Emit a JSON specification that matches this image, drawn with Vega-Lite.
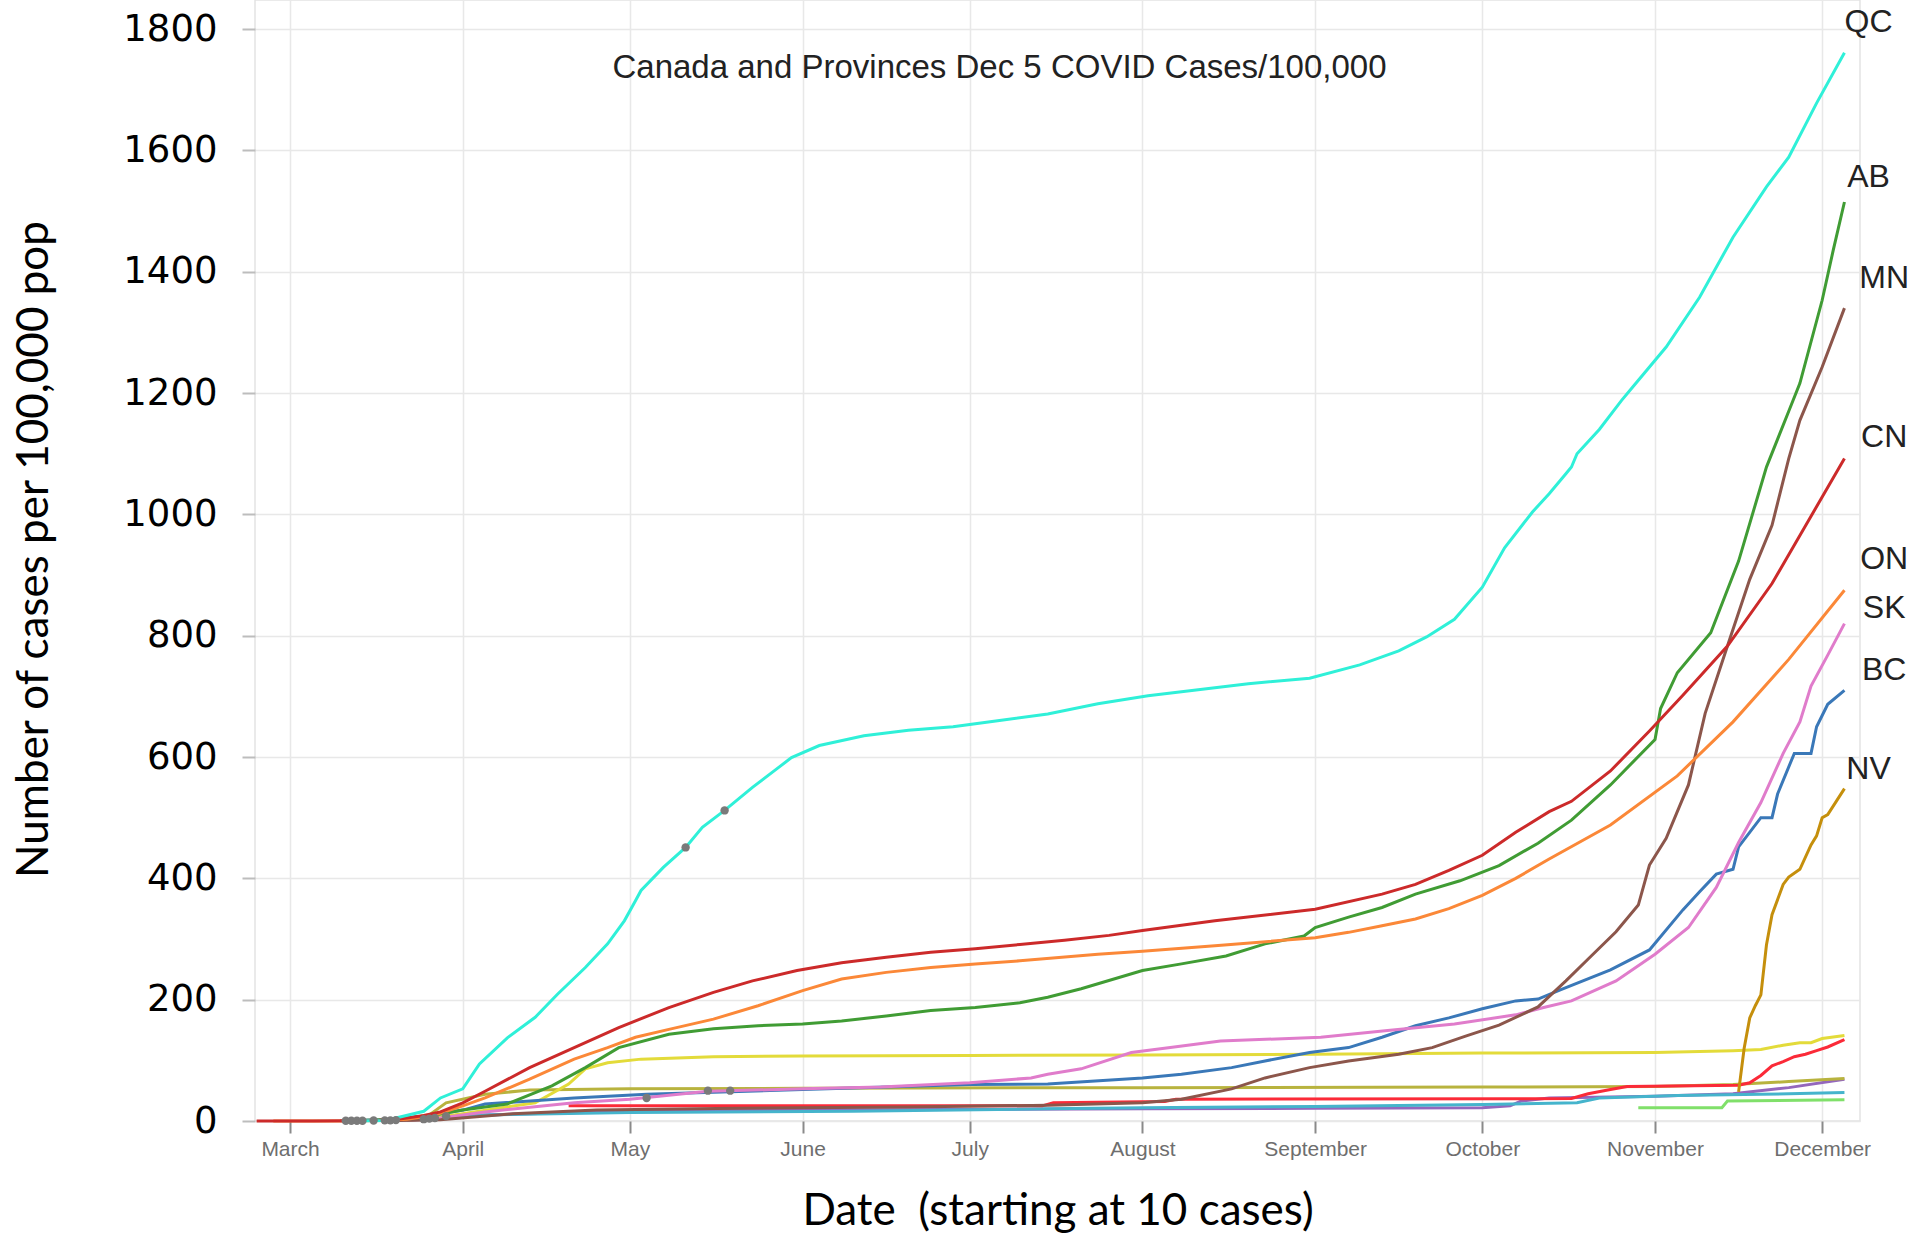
{
  "$schema": "https://vega.github.io/schema/vega-lite/v6.json",
  "width": 1605,
  "height": 1121,
  "autosize": {"type": "none"},
  "padding": {"left": 255, "top": 0, "right": 58, "bottom": 114},
  "background": "white",
  "title": {"text": "Canada and Provinces Dec 5 COVID Cases/100,000", "font": "Liberation Sans", "fontSize": 33, "fontWeight": "normal", "color": "#222222", "anchor": "middle", "frame": "group", "offset": 0, "dx": -58, "dy": 101, "baseline": "middle"},
  "config": {"view": {"stroke": "#e3e3e3", "strokeWidth": 1.5}},
  "datasets": {
    "series": [
      {"s":"NT","date":"2020-10-29","v":22},{"s":"NT","date":"2020-11-13","v":22},{"s":"NT","date":"2020-11-14","v":33},{"s":"NT","date":"2020-12-05","v":35},
      {"s":"NB","date":"2020-03-22","v":1},{"s":"NB","date":"2020-04-05","v":10},{"s":"NB","date":"2020-05-01","v":16},{"s":"NB","date":"2020-06-01","v":18},{"s":"NB","date":"2020-08-01","v":20},{"s":"NB","date":"2020-09-01","v":21},{"s":"NB","date":"2020-10-01","v":22},{"s":"NB","date":"2020-10-06","v":25},{"s":"NB","date":"2020-10-08","v":33},{"s":"NB","date":"2020-10-13","v":38},{"s":"NB","date":"2020-11-01","v":41},{"s":"NB","date":"2020-11-15","v":45},{"s":"NB","date":"2020-11-25","v":55},{"s":"NB","date":"2020-12-05","v":69},
      {"s":"PE","date":"2020-03-20","v":1},{"s":"PE","date":"2020-04-05","v":10},{"s":"PE","date":"2020-05-01","v":14},{"s":"PE","date":"2020-06-10","v":16},{"s":"PE","date":"2020-07-15","v":20},{"s":"PE","date":"2020-08-01","v":22},{"s":"PE","date":"2020-09-01","v":24},{"s":"PE","date":"2020-10-01","v":27},{"s":"PE","date":"2020-10-18","v":30},{"s":"PE","date":"2020-10-22","v":38},{"s":"PE","date":"2020-11-05","v":42},{"s":"PE","date":"2020-11-20","v":44},{"s":"PE","date":"2020-12-05","v":47},
      {"s":"NL","date":"2020-03-20","v":1},{"s":"NL","date":"2020-03-26","v":10},{"s":"NL","date":"2020-03-29","v":30},{"s":"NL","date":"2020-04-05","v":44},{"s":"NL","date":"2020-04-13","v":51},{"s":"NL","date":"2020-05-01","v":53},{"s":"NL","date":"2020-06-01","v":54},{"s":"NL","date":"2020-08-01","v":55},{"s":"NL","date":"2020-10-01","v":56},{"s":"NL","date":"2020-11-01","v":57},{"s":"NL","date":"2020-11-15","v":60},{"s":"NL","date":"2020-11-25","v":65},{"s":"NL","date":"2020-12-05","v":70},
      {"s":"NS","date":"2020-03-18","v":0.5},{"s":"NS","date":"2020-03-25","v":3},{"s":"NS","date":"2020-04-01","v":12},{"s":"NS","date":"2020-04-08","v":22},{"s":"NS","date":"2020-04-14","v":30},{"s":"NS","date":"2020-04-20","v":61},{"s":"NS","date":"2020-04-23","v":86},{"s":"NS","date":"2020-04-27","v":96},{"s":"NS","date":"2020-05-03","v":102},{"s":"NS","date":"2020-05-16","v":106},{"s":"NS","date":"2020-06-01","v":107},{"s":"NS","date":"2020-07-01","v":108},{"s":"NS","date":"2020-08-01","v":109},{"s":"NS","date":"2020-09-01","v":110},{"s":"NS","date":"2020-10-01","v":112},{"s":"NS","date":"2020-11-01","v":113},{"s":"NS","date":"2020-11-15","v":116},{"s":"NS","date":"2020-11-20","v":118},{"s":"NS","date":"2020-11-24","v":125},{"s":"NS","date":"2020-11-27","v":129},{"s":"NS","date":"2020-11-29","v":129},{"s":"NS","date":"2020-12-01","v":136},{"s":"NS","date":"2020-12-05","v":141},
      {"s":"YT","date":"2020-04-20","v":25},{"s":"YT","date":"2020-07-14","v":25},{"s":"YT","date":"2020-07-16","v":30},{"s":"YT","date":"2020-08-05","v":32},{"s":"YT","date":"2020-08-07","v":36},{"s":"YT","date":"2020-10-17","v":37},{"s":"YT","date":"2020-10-20","v":45},{"s":"YT","date":"2020-10-24","v":52},{"s":"YT","date":"2020-10-27","v":57},{"s":"YT","date":"2020-11-16","v":59},{"s":"YT","date":"2020-11-18","v":63},{"s":"YT","date":"2020-11-20","v":75},{"s":"YT","date":"2020-11-22","v":91},{"s":"YT","date":"2020-11-24","v":98},{"s":"YT","date":"2020-11-26","v":106},{"s":"YT","date":"2020-11-28","v":110},{"s":"YT","date":"2020-11-30","v":116},{"s":"YT","date":"2020-12-02","v":122},{"s":"YT","date":"2020-12-05","v":134},
      {"s":"BC","date":"2020-03-10","v":0.3},{"s":"BC","date":"2020-03-18","v":2},{"s":"BC","date":"2020-03-25","v":8},{"s":"BC","date":"2020-04-01","v":18},{"s":"BC","date":"2020-04-05","v":28},{"s":"BC","date":"2020-04-21","v":38},{"s":"BC","date":"2020-05-04","v":44},{"s":"BC","date":"2020-06-01","v":52},{"s":"BC","date":"2020-07-01","v":60},{"s":"BC","date":"2020-07-15","v":61},{"s":"BC","date":"2020-08-01","v":71},{"s":"BC","date":"2020-08-08","v":77},{"s":"BC","date":"2020-08-17","v":88},{"s":"BC","date":"2020-08-23","v":99},{"s":"BC","date":"2020-08-31","v":113},{"s":"BC","date":"2020-09-07","v":121},{"s":"BC","date":"2020-09-13","v":138},{"s":"BC","date":"2020-09-19","v":157},{"s":"BC","date":"2020-09-25","v":170},{"s":"BC","date":"2020-10-01","v":185},{"s":"BC","date":"2020-10-07","v":198},{"s":"BC","date":"2020-10-11","v":201},{"s":"BC","date":"2020-10-15","v":216},{"s":"BC","date":"2020-10-24","v":249},{"s":"BC","date":"2020-10-31","v":282},{"s":"BC","date":"2020-11-06","v":348},{"s":"BC","date":"2020-11-09","v":378},{"s":"BC","date":"2020-11-12","v":407},{"s":"BC","date":"2020-11-15","v":415},{"s":"BC","date":"2020-11-16","v":452},{"s":"BC","date":"2020-11-20","v":500},{"s":"BC","date":"2020-11-22","v":500},{"s":"BC","date":"2020-11-23","v":539},{"s":"BC","date":"2020-11-26","v":606},{"s":"BC","date":"2020-11-29","v":606},{"s":"BC","date":"2020-11-30","v":650},{"s":"BC","date":"2020-12-02","v":687},{"s":"BC","date":"2020-12-05","v":710},
      {"s":"SK","date":"2020-03-20","v":1},{"s":"SK","date":"2020-03-28","v":5},{"s":"SK","date":"2020-04-05","v":15},{"s":"SK","date":"2020-04-21","v":30},{"s":"SK","date":"2020-05-01","v":36},{"s":"SK","date":"2020-05-15","v":49},{"s":"SK","date":"2020-06-01","v":53},{"s":"SK","date":"2020-06-15","v":56},{"s":"SK","date":"2020-07-01","v":63},{"s":"SK","date":"2020-07-12","v":71},{"s":"SK","date":"2020-07-15","v":77},{"s":"SK","date":"2020-07-21","v":86},{"s":"SK","date":"2020-07-30","v":113},{"s":"SK","date":"2020-08-06","v":121},{"s":"SK","date":"2020-08-15","v":132},{"s":"SK","date":"2020-09-02","v":138},{"s":"SK","date":"2020-09-14","v":149},{"s":"SK","date":"2020-09-26","v":160},{"s":"SK","date":"2020-10-07","v":175},{"s":"SK","date":"2020-10-12","v":187},{"s":"SK","date":"2020-10-17","v":198},{"s":"SK","date":"2020-10-25","v":231},{"s":"SK","date":"2020-11-01","v":275},{"s":"SK","date":"2020-11-07","v":319},{"s":"SK","date":"2020-11-12","v":385},{"s":"SK","date":"2020-11-16","v":459},{"s":"SK","date":"2020-11-20","v":525},{"s":"SK","date":"2020-11-24","v":606},{"s":"SK","date":"2020-11-27","v":658},{"s":"SK","date":"2020-11-29","v":717},{"s":"SK","date":"2020-12-02","v":768},{"s":"SK","date":"2020-12-05","v":820},
      {"s":"NV","date":"2020-11-16","v":48},{"s":"NV","date":"2020-11-17","v":120},{"s":"NV","date":"2020-11-18","v":170},{"s":"NV","date":"2020-11-19","v":190},{"s":"NV","date":"2020-11-20","v":208},{"s":"NV","date":"2020-11-21","v":290},{"s":"NV","date":"2020-11-22","v":340},{"s":"NV","date":"2020-11-24","v":390},{"s":"NV","date":"2020-11-25","v":402},{"s":"NV","date":"2020-11-27","v":415},{"s":"NV","date":"2020-11-29","v":455},{"s":"NV","date":"2020-11-30","v":470},{"s":"NV","date":"2020-12-01","v":500},{"s":"NV","date":"2020-12-02","v":505},{"s":"NV","date":"2020-12-05","v":548},
      {"s":"MN","date":"2020-03-18","v":0.5},{"s":"MN","date":"2020-03-28","v":2},{"s":"MN","date":"2020-04-10","v":12},{"s":"MN","date":"2020-04-25","v":18},{"s":"MN","date":"2020-05-20","v":21},{"s":"MN","date":"2020-06-20","v":23},{"s":"MN","date":"2020-07-15","v":26},{"s":"MN","date":"2020-08-01","v":30},{"s":"MN","date":"2020-08-08","v":36},{"s":"MN","date":"2020-08-17","v":53},{"s":"MN","date":"2020-08-23","v":71},{"s":"MN","date":"2020-08-31","v":88},{"s":"MN","date":"2020-09-07","v":99},{"s":"MN","date":"2020-09-16","v":110},{"s":"MN","date":"2020-09-22","v":121},{"s":"MN","date":"2020-09-28","v":140},{"s":"MN","date":"2020-10-04","v":158},{"s":"MN","date":"2020-10-11","v":188},{"s":"MN","date":"2020-10-16","v":231},{"s":"MN","date":"2020-10-20","v":267},{"s":"MN","date":"2020-10-25","v":312},{"s":"MN","date":"2020-10-29","v":356},{"s":"MN","date":"2020-10-31","v":422},{"s":"MN","date":"2020-11-03","v":466},{"s":"MN","date":"2020-11-07","v":554},{"s":"MN","date":"2020-11-10","v":672},{"s":"MN","date":"2020-11-14","v":783},{"s":"MN","date":"2020-11-18","v":893},{"s":"MN","date":"2020-11-22","v":982},{"s":"MN","date":"2020-11-25","v":1092},{"s":"MN","date":"2020-11-27","v":1155},{"s":"MN","date":"2020-12-01","v":1243},{"s":"MN","date":"2020-12-05","v":1340},
      {"s":"AB","date":"2020-03-12","v":0.5},{"s":"AB","date":"2020-03-20","v":3},{"s":"AB","date":"2020-03-27","v":10},{"s":"AB","date":"2020-04-01","v":18},{"s":"AB","date":"2020-04-09","v":28},{"s":"AB","date":"2020-04-17","v":58},{"s":"AB","date":"2020-04-23","v":88},{"s":"AB","date":"2020-04-29","v":121},{"s":"AB","date":"2020-05-08","v":143},{"s":"AB","date":"2020-05-16","v":152},{"s":"AB","date":"2020-05-24","v":157},{"s":"AB","date":"2020-06-01","v":160},{"s":"AB","date":"2020-06-08","v":165},{"s":"AB","date":"2020-06-16","v":173},{"s":"AB","date":"2020-06-24","v":182},{"s":"AB","date":"2020-07-02","v":187},{"s":"AB","date":"2020-07-10","v":195},{"s":"AB","date":"2020-07-15","v":204},{"s":"AB","date":"2020-07-21","v":218},{"s":"AB","date":"2020-08-01","v":248},{"s":"AB","date":"2020-08-08","v":259},{"s":"AB","date":"2020-08-16","v":272},{"s":"AB","date":"2020-08-23","v":292},{"s":"AB","date":"2020-08-30","v":305},{"s":"AB","date":"2020-09-01","v":319},{"s":"AB","date":"2020-09-07","v":336},{"s":"AB","date":"2020-09-13","v":352},{"s":"AB","date":"2020-09-19","v":374},{"s":"AB","date":"2020-09-27","v":396},{"s":"AB","date":"2020-10-04","v":421},{"s":"AB","date":"2020-10-11","v":458},{"s":"AB","date":"2020-10-17","v":496},{"s":"AB","date":"2020-10-24","v":554},{"s":"AB","date":"2020-11-01","v":629},{"s":"AB","date":"2020-11-02","v":680},{"s":"AB","date":"2020-11-05","v":739},{"s":"AB","date":"2020-11-11","v":805},{"s":"AB","date":"2020-11-16","v":923},{"s":"AB","date":"2020-11-21","v":1078},{"s":"AB","date":"2020-11-25","v":1170},{"s":"AB","date":"2020-11-27","v":1216},{"s":"AB","date":"2020-12-01","v":1353},{"s":"AB","date":"2020-12-03","v":1436},{"s":"AB","date":"2020-12-05","v":1515},
      {"s":"ON","date":"2020-02-27","v":0.1},{"s":"ON","date":"2020-03-10","v":0.2},{"s":"ON","date":"2020-03-17","v":1},{"s":"ON","date":"2020-03-22","v":3},{"s":"ON","date":"2020-03-27","v":10},{"s":"ON","date":"2020-04-01","v":25},{"s":"ON","date":"2020-04-05","v":38},{"s":"ON","date":"2020-04-13","v":69},{"s":"ON","date":"2020-04-21","v":102},{"s":"ON","date":"2020-04-27","v":121},{"s":"ON","date":"2020-05-02","v":138},{"s":"ON","date":"2020-05-08","v":151},{"s":"ON","date":"2020-05-16","v":168},{"s":"ON","date":"2020-05-24","v":190},{"s":"ON","date":"2020-06-01","v":215},{"s":"ON","date":"2020-06-08","v":234},{"s":"ON","date":"2020-06-16","v":245},{"s":"ON","date":"2020-06-24","v":253},{"s":"ON","date":"2020-07-02","v":259},{"s":"ON","date":"2020-07-10","v":264},{"s":"ON","date":"2020-07-24","v":275},{"s":"ON","date":"2020-08-01","v":280},{"s":"ON","date":"2020-08-14","v":289},{"s":"ON","date":"2020-09-01","v":302},{"s":"ON","date":"2020-09-07","v":311},{"s":"ON","date":"2020-09-13","v":322},{"s":"ON","date":"2020-09-19","v":333},{"s":"ON","date":"2020-09-25","v":350},{"s":"ON","date":"2020-10-01","v":372},{"s":"ON","date":"2020-10-07","v":400},{"s":"ON","date":"2020-10-13","v":432},{"s":"ON","date":"2020-10-24","v":488},{"s":"ON","date":"2020-11-05","v":569},{"s":"ON","date":"2020-11-15","v":658},{"s":"ON","date":"2020-11-25","v":761},{"s":"ON","date":"2020-12-05","v":875},
      {"s":"CN","date":"2020-02-24","v":0.1},{"s":"CN","date":"2020-03-05","v":0.1},{"s":"CN","date":"2020-03-12","v":0.3},{"s":"CN","date":"2020-03-17","v":1.2},{"s":"CN","date":"2020-03-21","v":3.5},{"s":"CN","date":"2020-03-25","v":9},{"s":"CN","date":"2020-03-28","v":15},{"s":"CN","date":"2020-04-01","v":30},{"s":"CN","date":"2020-04-05","v":49},{"s":"CN","date":"2020-04-13","v":88},{"s":"CN","date":"2020-04-21","v":121},{"s":"CN","date":"2020-04-29","v":154},{"s":"CN","date":"2020-05-08","v":187},{"s":"CN","date":"2020-05-16","v":212},{"s":"CN","date":"2020-05-23","v":231},{"s":"CN","date":"2020-05-31","v":248},{"s":"CN","date":"2020-06-08","v":261},{"s":"CN","date":"2020-06-16","v":270},{"s":"CN","date":"2020-06-24","v":278},{"s":"CN","date":"2020-07-02","v":284},{"s":"CN","date":"2020-07-10","v":291},{"s":"CN","date":"2020-07-18","v":298},{"s":"CN","date":"2020-07-26","v":306},{"s":"CN","date":"2020-08-01","v":314},{"s":"CN","date":"2020-08-14","v":330},{"s":"CN","date":"2020-09-01","v":349},{"s":"CN","date":"2020-09-13","v":374},{"s":"CN","date":"2020-09-19","v":390},{"s":"CN","date":"2020-09-25","v":413},{"s":"CN","date":"2020-10-01","v":438},{"s":"CN","date":"2020-10-07","v":476},{"s":"CN","date":"2020-10-13","v":510},{"s":"CN","date":"2020-10-17","v":527},{"s":"CN","date":"2020-10-24","v":577},{"s":"CN","date":"2020-10-31","v":643},{"s":"CN","date":"2020-11-06","v":702},{"s":"CN","date":"2020-11-14","v":783},{"s":"CN","date":"2020-11-22","v":886},{"s":"CN","date":"2020-11-29","v":997},{"s":"CN","date":"2020-12-05","v":1092},
      {"s":"QC","date":"2020-03-12","v":0.1},{"s":"QC","date":"2020-03-18","v":1},{"s":"QC","date":"2020-03-20","v":5},{"s":"QC","date":"2020-03-25","v":16},{"s":"QC","date":"2020-03-28","v":38},{"s":"QC","date":"2020-04-01","v":53},{"s":"QC","date":"2020-04-04","v":94},{"s":"QC","date":"2020-04-09","v":137},{"s":"QC","date":"2020-04-14","v":171},{"s":"QC","date":"2020-04-18","v":209},{"s":"QC","date":"2020-04-23","v":253},{"s":"QC","date":"2020-04-27","v":292},{"s":"QC","date":"2020-04-30","v":330},{"s":"QC","date":"2020-05-02","v":363},{"s":"QC","date":"2020-05-03","v":380},{"s":"QC","date":"2020-05-07","v":418},{"s":"QC","date":"2020-05-11","v":451},{"s":"QC","date":"2020-05-14","v":484},{"s":"QC","date":"2020-05-18","v":512},{"s":"QC","date":"2020-05-23","v":550},{"s":"QC","date":"2020-05-27","v":578},{"s":"QC","date":"2020-05-30","v":599},{"s":"QC","date":"2020-06-04","v":619},{"s":"QC","date":"2020-06-12","v":635},{"s":"QC","date":"2020-06-20","v":644},{"s":"QC","date":"2020-06-28","v":650},{"s":"QC","date":"2020-07-06","v":660},{"s":"QC","date":"2020-07-15","v":671},{"s":"QC","date":"2020-07-24","v":688},{"s":"QC","date":"2020-08-02","v":701},{"s":"QC","date":"2020-08-20","v":721},{"s":"QC","date":"2020-08-31","v":730},{"s":"QC","date":"2020-09-09","v":752},{"s":"QC","date":"2020-09-16","v":775},{"s":"QC","date":"2020-09-21","v":798},{"s":"QC","date":"2020-09-26","v":827},{"s":"QC","date":"2020-10-01","v":880},{"s":"QC","date":"2020-10-05","v":945},{"s":"QC","date":"2020-10-10","v":1004},{"s":"QC","date":"2020-10-13","v":1034},{"s":"QC","date":"2020-10-16","v":1067},{"s":"QC","date":"2020-10-17","v":1078},{"s":"QC","date":"2020-10-18","v":1100},{"s":"QC","date":"2020-10-22","v":1140},{"s":"QC","date":"2020-10-26","v":1188},{"s":"QC","date":"2020-10-28","v":1210},{"s":"QC","date":"2020-11-03","v":1276},{"s":"QC","date":"2020-11-09","v":1358},{"s":"QC","date":"2020-11-15","v":1457},{"s":"QC","date":"2020-11-21","v":1540},{"s":"QC","date":"2020-11-25","v":1589},{"s":"QC","date":"2020-11-30","v":1678},{"s":"QC","date":"2020-12-05","v":1761}
    ],
    "dots": [
      {"date":"2020-03-11","v":0.5},{"date":"2020-03-12","v":0.5},{"date":"2020-03-13","v":0.5},{"date":"2020-03-14","v":0.5},{"date":"2020-03-16","v":0.8},{"date":"2020-03-18","v":1},{"date":"2020-03-19","v":1},{"date":"2020-03-20","v":1.5},{"date":"2020-03-25","v":3},{"date":"2020-03-26","v":4},{"date":"2020-03-27","v":5},{"date":"2020-03-29","v":8},{"date":"2020-05-04","v":38},{"date":"2020-05-11","v":451},{"date":"2020-05-15","v":50},{"date":"2020-05-18","v":512},{"date":"2020-05-19","v":50}
    ],
    "labels": [
      {"label":"QC","date":"2020-12-09T08:00:00Z","v":1812},
      {"label":"AB","date":"2020-12-09T08:00:00Z","v":1556},
      {"label":"MN","date":"2020-12-12T03:00:00Z","v":1389},
      {"label":"CN","date":"2020-12-12T03:00:00Z","v":1127},
      {"label":"ON","date":"2020-12-12T03:00:00Z","v":927},
      {"label":"SK","date":"2020-12-12T03:00:00Z","v":846},
      {"label":"BC","date":"2020-12-12T03:00:00Z","v":743},
      {"label":"NV","date":"2020-12-09T08:00:00Z","v":581}
    ]
  },
  "layer": [
    {
      "data": {"name": "series"},
      "mark": {"type": "line", "strokeWidth": 3},
      "encoding": {
        "x": {
          "field": "date", "type": "temporal",
          "scale": {"type": "utc", "domain": [{"year": 2020, "month": 2, "date": 23, "hours": 17, "utc": true}, {"year": 2020, "month": 12, "date": 7, "hours": 19, "utc": true}]},
          "axis": {"format": "%B", "formatType": "utc", "tickCount": {"interval": "month", "step": 1}, "labelFont": "Liberation Sans", "labelFontSize": 21, "labelColor": "#6e6e6e", "labelPadding": 5, "labelFlush": false, "labelOverlap": false, "tickSize": 12, "tickColor": "#8a8a8a", "tickWidth": 2, "domain": false, "grid": true, "gridColor": "#e8e8e8", "gridWidth": 1.5, "title": "Date\u00a0 (starting at 10 cases)", "titleFont": "Lato", "titleFontSize": 44, "titleFontWeight": "normal", "titleColor": "#000000", "titleY": 90, "titleBaseline": "middle"}
        },
        "y": {
          "field": "v", "type": "quantitative",
          "scale": {"domain": [0, 1848], "nice": false},
          "axis": {"values": [0, 200, 400, 600, 800, 1000, 1200, 1400, 1600, 1800], "format": "d", "labelFont": "DejaVu Sans", "labelFontSize": 37, "labelColor": "#000000", "labelPadding": 25, "labelFlush": false, "labelOverlap": false, "tickSize": 13, "tickColor": "#bdbdbd", "tickWidth": 2, "domain": false, "grid": true, "gridColor": "#e8e8e8", "gridWidth": 1.5, "title": "Number of cases per 100,000 pop", "titleFont": "Lato", "titleFontSize": 44, "titleFontWeight": "normal", "titleColor": "#000000", "titleX": -221, "titleY": 549, "titleAngle": -90, "titleBaseline": "middle", "titleAlign": "center"}
        },
        "color": {
          "field": "s", "type": "nominal", "legend": null,
          "scale": {"domain": ["QC","AB","MN","CN","ON","SK","BC","NV","NS","NL","YT","PE","NB","NT"], "range": ["#2ff0d8","#409c34","#8c564b","#cc2a2a","#fb8838","#e07ccb","#3a78b8","#c58f0c","#e3db3a","#b8b33e","#fb2a38","#45b4cc","#9467bd","#80e06a"]}
        }
      }
    },
    {
      "data": {"name": "dots"},
      "mark": {"type": "circle", "size": 70, "color": "#7a7a7a", "opacity": 1},
      "encoding": {
        "x": {"field": "date", "type": "temporal"},
        "y": {"field": "v", "type": "quantitative"}
      }
    },
    {
      "data": {"name": "labels"},
      "mark": {"type": "text", "font": "Liberation Sans", "fontSize": 32, "color": "#222222", "align": "center", "baseline": "middle"},
      "encoding": {
        "x": {"field": "date", "type": "temporal"},
        "y": {"field": "v", "type": "quantitative"},
        "text": {"field": "label", "type": "nominal"}
      }
    }
  ]
}
